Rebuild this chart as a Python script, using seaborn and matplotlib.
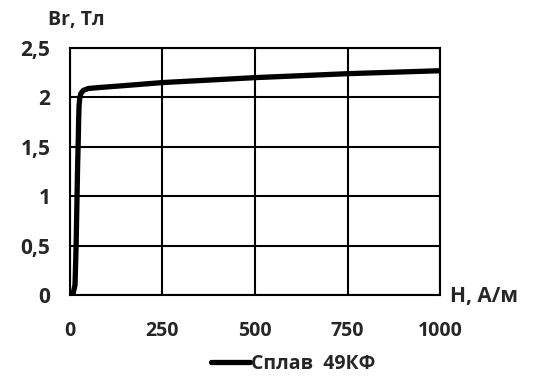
import matplotlib
matplotlib.use("Agg")
import matplotlib.pyplot as plt
import seaborn as sns
import pandas as pd

H = [8, 14, 17, 19, 21, 23, 24, 25, 27, 30, 36, 50, 80, 150, 250, 400, 500, 750, 1000]
B = [0.0, 0.1, 0.5, 0.9, 1.3, 1.6, 1.8, 1.92, 2.0, 2.04, 2.07, 2.09, 2.10, 2.12, 2.15, 2.18, 2.20, 2.24, 2.27]
xticks = [0, 250, 500, 750, 1000]
yticks = [0, 0.5, 1, 1.5, 2, 2.5]
ylabels = ["0", "0,5", "1", "1,5", "2", "2,5"]
series = "Сплав  49КФ"

sns.set_theme(style="white")
plt.rcParams['font.family'] = ['Open Sans', 'DejaVu Sans']
plt.rcParams['font.weight'] = 'bold'

df = pd.DataFrame({"H": H, "B": B, "s": series})

fig = plt.figure(figsize=(5.33, 3.81), dpi=100)
ax = fig.add_axes([0.131, 0.226, 0.695, 0.648])
sns.lineplot(data=df, x="H", y="B", hue="s", palette=["black"], sort=False,
             estimator=None, lw=3.8, ax=ax, legend=True)
ax.set_xlim(0, 1000)
ax.set_ylim(0, 2.5)
ax.set_xticks(xticks)
ax.set_xticklabels([str(t) for t in xticks], fontsize=14, fontweight='bold')
ax.set_yticks(yticks)
ax.set_yticklabels(ylabels, fontsize=15, fontweight='bold')
ax.grid(True, color='black', lw=1.5)
for s in ax.spines.values():
    s.set_color('black')
    s.set_linewidth(1.5)
ax.tick_params(axis='both', direction='out', length=6, width=1.5, color='black', pad=8)
ax.tick_params(axis='x', pad=13)
ax.set_xlabel("")
ax.set_ylabel("")
fig.text(0.845, 0.222, "H, А/м", fontsize=15, fontweight='bold', va='center', ha='left')
fig.text(0.09, 0.948, "Br, Тл", fontsize=14, fontweight='bold', va='center', ha='left')
leg = ax.legend(loc='center left', bbox_to_anchor=(0.36, -0.28), frameon=False,
                prop={'size': 14, 'weight': 'bold'}, handlelength=2.0, handletextpad=0.05,
                borderaxespad=0)
fig.savefig("out.png", dpi=100)
